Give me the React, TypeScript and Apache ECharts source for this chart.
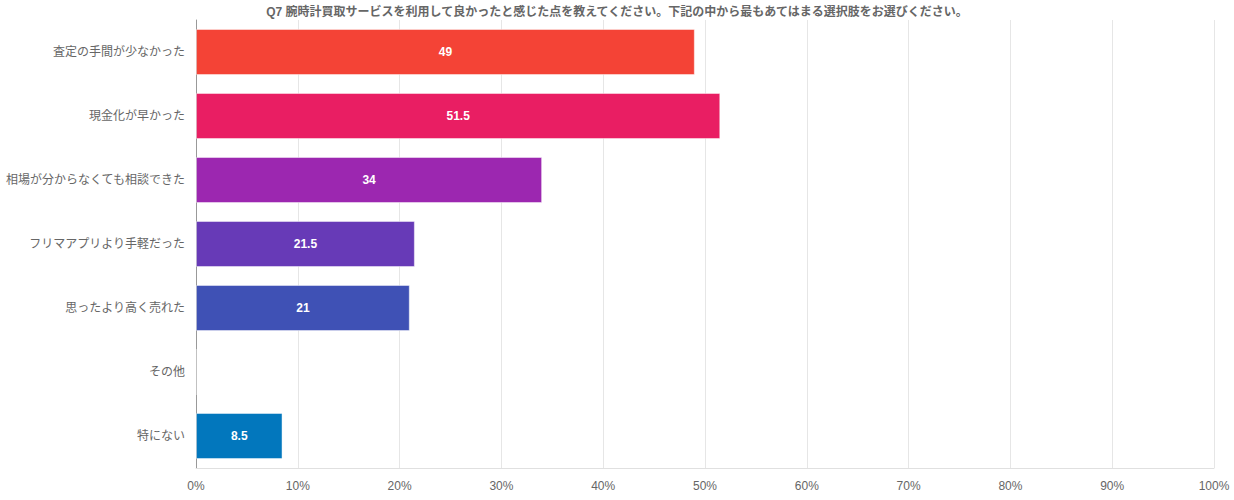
import React, { useEffect, useRef } from 'react';
import * as echarts from 'echarts';

const titleText =
  'Q7 腕時計買取サービスを利用して良かったと感じた点を教えてください。下記の中から最もあてはまる選択肢をお選びください。';

const categories = [
  '査定の手間が少なかった',
  '現金化が早かった',
  '相場が分からなくても相談できた',
  'フリマアプリより手軽だった',
  '思ったより高く売れた',
  'その他',
  '特にない',
];

const values = [49, 51.5, 34, 21.5, 21, 0, 8.5];

const barColors = ['#f44336', '#e91e63', '#9c27b0', '#673ab7', '#3f51b5', '#2196f3', '#0277bd'];

const xTicks = [0, 10, 20, 30, 40, 50, 60, 70, 80, 90, 100];

const FONT = '"Liberation Sans", Arial, "Noto Sans CJK JP", sans-serif';

export default function App() {
  const chartRef = useRef<HTMLDivElement>(null);

  useEffect(() => {
    if (!chartRef.current) return;
    const chart = echarts.init(chartRef.current, null, { renderer: 'svg' });

    const option = {
      animation: false,
      textStyle: { fontFamily: FONT },
      title: {
        text: titleText,
        left: 'center',
        top: 1,
        textStyle: { fontSize: 12, fontWeight: 'bold', color: '#666', fontFamily: FONT },
      },
      grid: { left: 196, right: 20, top: 20, bottom: 32, containLabel: false },
      xAxis: {
        type: 'value',
        min: xTicks[0],
        max: xTicks[xTicks.length - 1],
        interval: 10,
        axisLine: { show: true, lineStyle: { color: '#e0e0e0' } },
        axisTick: { show: false },
        splitLine: { show: true, lineStyle: { color: '#e6e6e6' } },
        axisLabel: { formatter: '{value}%', color: '#666', fontSize: 12, margin: 12 },
      },
      yAxis: {
        type: 'category',
        inverse: true,
        data: categories,
        axisLine: { show: true, lineStyle: { color: '#999' } },
        axisTick: { show: false },
        axisLabel: { color: '#666', fontSize: 12, margin: 11 },
      },
      series: [
        {
          type: 'bar',
          barWidth: 46,
          data: values.map((v, i) => ({
            value: v,
            itemStyle: {
              color: barColors[i],
              borderColor: 'rgba(255,255,255,0.45)',
              borderWidth: 1,
            },
          })),
          label: {
            show: true,
            position: 'inside',
            color: '#fff',
            fontWeight: 'bold',
            fontSize: 12,
            formatter: (p: any) => (p.value ? String(p.value) : ''),
          },
        },
      ],
    } as any;

    chart.setOption(option);
    return () => {
      chart.dispose();
    };
  }, []);

  return (
    <div
      ref={chartRef}
      style={{ position: 'absolute', left: 0, top: 0, width: 1234, height: 500 }}
    />
  );
}
